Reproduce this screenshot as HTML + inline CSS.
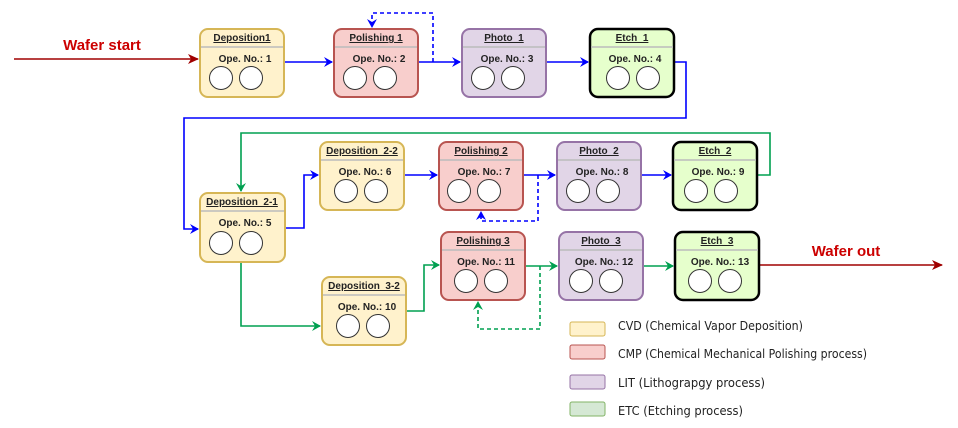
<!DOCTYPE html>
<html><head><meta charset="utf-8"><style>
html,body{margin:0;padding:0;background:#fff;}
svg{display:block;}
.t{font-family:"Liberation Sans",sans-serif;font-weight:bold;font-size:10px;text-anchor:middle;fill:#222;}
.u{text-decoration:underline;}
.lg{font-family:"DejaVu Sans",sans-serif;font-size:12px;fill:#222;}
</style></head><body>
<svg width="958" height="428" viewBox="0 0 958 428" xmlns="http://www.w3.org/2000/svg">
<defs>
<marker id="ab" markerWidth="10" markerHeight="10" refX="8" refY="5" orient="auto" markerUnits="userSpaceOnUse"><path d="M0,0 L9,5 L0,10 L3,5 z" fill="#0000ff"/></marker>
<marker id="ag" markerWidth="10" markerHeight="10" refX="8" refY="5" orient="auto" markerUnits="userSpaceOnUse"><path d="M0,0 L9,5 L0,10 L3,5 z" fill="#00a050"/></marker>
<marker id="ar" markerWidth="12" markerHeight="10" refX="10" refY="5" orient="auto" markerUnits="userSpaceOnUse"><path d="M0,0 L11,5 L0,10 L3,5 z" fill="#a00000"/></marker>
</defs>

<g fill="none" stroke-width="1.6">
<path d="M14,59 H198" stroke="#a00000" marker-end="url(#ar)"/>
<path d="M676,265 H942" stroke="#a00000" marker-end="url(#ar)"/>
<path d="M284,62 H332" stroke="#0000ff" marker-end="url(#ab)"/>
<path d="M418,62 H460" stroke="#0000ff" marker-end="url(#ab)"/>
<path d="M433,62 V13 H372 V27" stroke="#0000ff" stroke-dasharray="4,3" marker-end="url(#ab)"/>
<path d="M546,62 H588" stroke="#0000ff" marker-end="url(#ab)"/>
<path d="M674,62 H686 V118 H184 V229 H198" stroke="#0000ff" marker-end="url(#ab)"/>
<path d="M285,228 H304 V175 H318" stroke="#0000ff" marker-end="url(#ab)"/>
<path d="M404,175 H437" stroke="#0000ff" marker-end="url(#ab)"/>
<path d="M523,175 H555" stroke="#0000ff" marker-end="url(#ab)"/>
<path d="M538,175 V221 H481 V212" stroke="#0000ff" stroke-dasharray="4,3" marker-end="url(#ab)"/>
<path d="M641,175 H671" stroke="#0000ff" marker-end="url(#ab)"/>
<path d="M757,175 H770 V133 H241 V191" stroke="#00a050" marker-end="url(#ag)"/>
<path d="M241,262 V326 H320" stroke="#00a050" marker-end="url(#ag)"/>
<path d="M406,311 H424 V265 H439" stroke="#00a050" marker-end="url(#ag)"/>
<path d="M525,266 H557" stroke="#00a050" marker-end="url(#ag)"/>
<path d="M540,266 V329 H478 V302" stroke="#00a050" stroke-dasharray="4,3" marker-end="url(#ag)"/>
<path d="M643,266 H673" stroke="#00a050" marker-end="url(#ag)"/>
</g>

<text x="102" y="50" font-family="Liberation Sans,sans-serif" font-weight="bold" font-size="15" fill="#cc0000" text-anchor="middle">Wafer start</text>
<text x="846" y="256" font-family="Liberation Sans,sans-serif" font-weight="bold" font-size="15" fill="#cc0000" text-anchor="middle">Wafer out</text>

<g stroke-width="2">
<rect x="200" y="29" width="84" height="68" rx="8" fill="#fff2cc" stroke="#d6b656"/>
<rect x="334" y="29" width="84" height="68" rx="8" fill="#f8cecc" stroke="#b85450"/>
<rect x="462" y="29" width="84" height="68" rx="8" fill="#e1d5e7" stroke="#9673a6"/>
<rect x="590" y="29" width="84" height="68" rx="8" fill="#e6ffcc" stroke="#000" stroke-width="2.5"/>
<rect x="200" y="193" width="85" height="69" rx="8" fill="#fff2cc" stroke="#d6b656"/>
<rect x="320" y="142" width="84" height="68" rx="8" fill="#fff2cc" stroke="#d6b656"/>
<rect x="439" y="142" width="84" height="68" rx="8" fill="#f8cecc" stroke="#b85450"/>
<rect x="557" y="142" width="84" height="68" rx="8" fill="#e1d5e7" stroke="#9673a6"/>
<rect x="673" y="142" width="84" height="68" rx="8" fill="#e6ffcc" stroke="#000" stroke-width="2.5"/>
<rect x="322" y="277" width="84" height="68" rx="8" fill="#fff2cc" stroke="#d6b656"/>
<rect x="441" y="232" width="84" height="68" rx="8" fill="#f8cecc" stroke="#b85450"/>
<rect x="559" y="232" width="84" height="68" rx="8" fill="#e1d5e7" stroke="#9673a6"/>
<rect x="675" y="232" width="84" height="68" rx="8" fill="#e6ffcc" stroke="#000" stroke-width="2.5"/>
</g>
<g stroke="#bbb" stroke-width="1.5">
<path d="M201,47H283 M335,47H417 M463,47H545 M591,47H673 M201,211H284 M321,160H403 M440,160H522 M558,160H640 M674,160H756 M323,295H405 M442,250H524 M560,250H642 M676,250H758"/>
</g>
<g fill="#fff" stroke="#333" stroke-width="1">
<circle cx="221" cy="78" r="11.5"/><circle cx="251" cy="78" r="11.5"/>
<circle cx="355" cy="78" r="11.5"/><circle cx="385" cy="78" r="11.5"/>
<circle cx="483" cy="78" r="11.5"/><circle cx="513" cy="78" r="11.5"/>
<circle cx="618" cy="78" r="11.5"/><circle cx="648" cy="78" r="11.5"/>
<circle cx="221" cy="243" r="11.5"/><circle cx="251" cy="243" r="11.5"/>
<circle cx="346" cy="191" r="11.5"/><circle cx="376" cy="191" r="11.5"/>
<circle cx="459" cy="191" r="11.5"/><circle cx="489" cy="191" r="11.5"/>
<circle cx="578" cy="191" r="11.5"/><circle cx="608" cy="191" r="11.5"/>
<circle cx="696" cy="191" r="11.5"/><circle cx="726" cy="191" r="11.5"/>
<circle cx="348" cy="326" r="11.5"/><circle cx="378" cy="326" r="11.5"/>
<circle cx="466" cy="281" r="11.5"/><circle cx="496" cy="281" r="11.5"/>
<circle cx="581" cy="281" r="11.5"/><circle cx="611" cy="281" r="11.5"/>
<circle cx="700" cy="281" r="11.5"/><circle cx="730" cy="281" r="11.5"/>
</g>
<g class="t">
<text class="u" x="242" y="41">Deposition1</text><text x="245" y="62">Ope. No.: 1</text>
<text class="u" x="376" y="41">Polishing 1</text><text x="379" y="62">Ope. No.: 2</text>
<text class="u" x="504" y="41">Photo_1</text><text x="507" y="62">Ope. No.: 3</text>
<text class="u" x="632" y="41">Etch_1</text><text x="635" y="62">Ope. No.: 4</text>
<text class="u" x="242" y="205">Deposition_2-1</text><text x="245" y="226">Ope. No.: 5</text>
<text class="u" x="362" y="154">Deposition_2-2</text><text x="365" y="175">Ope. No.: 6</text>
<text class="u" x="481" y="154">Polishing 2</text><text x="484" y="175">Ope. No.: 7</text>
<text class="u" x="599" y="154">Photo_2</text><text x="602" y="175">Ope. No.: 8</text>
<text class="u" x="715" y="154">Etch_2</text><text x="718" y="175">Ope. No.: 9</text>
<text class="u" x="364" y="289">Deposition_3-2</text><text x="367" y="310">Ope. No.: 10</text>
<text class="u" x="483" y="244">Polishing 3</text><text x="486" y="265">Ope. No.: 11</text>
<text class="u" x="601" y="244">Photo_3</text><text x="604" y="265">Ope. No.: 12</text>
<text class="u" x="717" y="244">Etch_3</text><text x="720" y="265">Ope. No.: 13</text>
</g>

<g stroke-width="1">
<rect x="570" y="322" width="35" height="14" rx="2" fill="#fff2cc" stroke="#d6b656"/>
<rect x="570" y="345" width="35" height="14" rx="2" fill="#f8cecc" stroke="#b85450"/>
<rect x="570" y="375" width="35" height="14" rx="2" fill="#e1d5e7" stroke="#9673a6"/>
<rect x="570" y="402" width="35" height="14" rx="2" fill="#d5e8d4" stroke="#82b366"/>
</g>
<text class="lg" x="618" y="330" textLength="185" lengthAdjust="spacingAndGlyphs">CVD (Chemical Vapor Deposition)</text>
<text class="lg" x="618" y="358" textLength="249" lengthAdjust="spacingAndGlyphs">CMP (Chemical Mechanical Polishing process)</text>
<text class="lg" x="618" y="387" textLength="147" lengthAdjust="spacingAndGlyphs">LIT (Lithograpgy process)</text>
<text class="lg" x="618" y="415" textLength="125" lengthAdjust="spacingAndGlyphs">ETC (Etching process)</text>
</svg>
</body></html>
